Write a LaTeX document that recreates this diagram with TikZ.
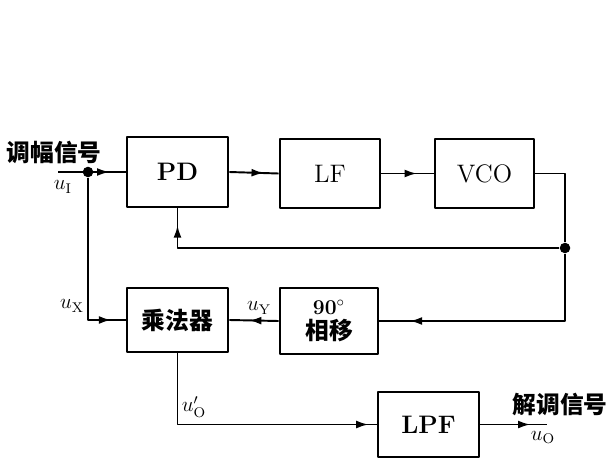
\documentclass[tikz,border=0pt]{standalone}
\usepackage{fontspec}
\newfontfamily\cjk{Noto Sans CJK SC}
\usetikzlibrary{arrows.meta,decorations.markings}

\tikzset{
  blk/.style n args={2}{draw,line width=1.6pt,minimum width=#1*0.02cm,
    minimum height=#2*0.02cm,inner sep=0pt},
  sig/.style={line width=1.1pt},
  marrow/.style={postaction={decorate},
    decoration={markings,mark=at position #1 with {\arrow{Latex[length=7pt,width=4.5pt]}}}},
  junc/.style={circle,fill,inner sep=0pt,minimum size=6pt},
  cjktxt/.style={font=\cjk\fontsize{13.5}{15}\selectfont\bfseries},
  lbl/.style={font=\large,inner sep=1pt},
}

\begin{document}
\begin{tikzpicture}[x=0.02cm, y=-0.02cm, >=Latex, line join=round]
  \useasboundingbox (0,0) rectangle (607,459);
  % blocks
  \node[blk={101}{70}] (PD)  at (177.5,172) {\Large\bfseries PD};
  \node[blk={100}{69}] (LF)  at (330,173.5) {\Large LF};
  \node[blk={99}{69}]  (VCO) at (484.5,173.5) {\Large VCO};
  \node[blk={101}{64},cjktxt] (MUL) at (177.5,320) {乘法器};
  \node[blk={98}{66},align=center,cjktxt] (PS) at (329,321)
    {\rmfamily\large\bfseries 90$^{\circ}$\\[-1pt]相移};
  \node[blk={101}{65}] (LPF) at (428.5,424.5) {\Large\bfseries LPF};
  % points
  \coordinate (in)  at (58,172);
  \coordinate (out) at (547,424.5);
  \node[junc] (j1) at (88,172) {};
  \node[junc] (j2) at (565,248) {};
  % connectors
  \draw[sig,marrow=0.76] (in) -- (PD.west);
  \draw[sig,marrow=0.7] (PD.east) -- (LF.west);
  \draw[sig,marrow=0.68] (LF.east) -- (VCO.west);
  \draw[sig] (VCO.east) -| (j2);
  \draw[sig,marrow=0.96] (j2) -| (PD.south);
  \draw[sig,marrow=0.88] (j2) |- (PS.east);
  \draw[sig,marrow=0.6] (PS.west) -- (MUL.west -| MUL.east);
  \draw[sig,marrow=0.92] (j1) |- (MUL.west);
  \draw[sig,marrow=0.97] (MUL.south) |- (LPF.west);
  \draw[sig,marrow=0.75] (LPF.east) -- (out);
  % labels
  \node[cjktxt] (lin)  at (54,152) {调幅信号};
  \node[lbl] (luI) at (63,187) {$u_{\mathrm{I}}$};
  \node[lbl] (luX) at (72,306) {$u_{\mathrm{X}}$};
  \node[lbl] (luY) at (259,308) {$u_{\mathrm{Y}}$};
  \node[lbl] (luO1) at (194,407) {$u'_{\mathrm{O}}$};
  \node[cjktxt] (lout) at (560,404) {解调信号};
  \node[lbl] (luO) at (543,438) {$u_{\mathrm{O}}$};
\end{tikzpicture}
\end{document}
